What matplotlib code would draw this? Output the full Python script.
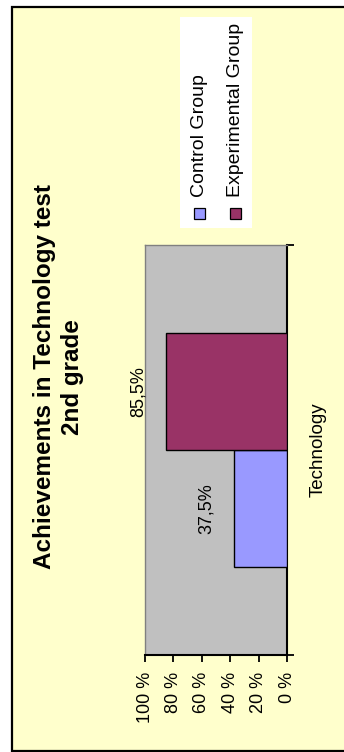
import numpy as np
import matplotlib.pyplot as plt
from matplotlib.patches import Rectangle

# --- data ---
categories = ['Technology']
series = ['Control Group', 'Experimental Group']
values = [37.5, 85.5]
value_labels = ['37,5%', '85,5%']
colors = ['#9999FF', '#993366']
ticks = [0, 20, 40, 60, 80, 100]
tick_labels = ['0 %', '20 %', '40 %', '60 %', '80 %', '100 %']
title = 'Achievements in Technology test\n2nd grade'

plt.rcParams['font.family'] = ['Liberation Sans', 'DejaVu Sans']

W, H = 344, 752
fig = plt.figure(figsize=(W / 100, H / 100), dpi=100, facecolor='white')


def fx(x):
    return x / W


def fy(y):
    return 1 - y / H


# chart area (the chart is turned a quarter round, so everything reads upward)
fig.patches.append(Rectangle((fx(12), fy(751)), fx(W + 10) - fx(12), fy(7) - fy(751),
                             transform=fig.transFigure, facecolor='#FFFFCC',
                             edgecolor='black', lw=1.6, zorder=-1))

ax = fig.add_axes([fx(145), fy(655), fx(287) - fx(145), fy(245) - fy(655)])
ax.set_facecolor('#C0C0C0')

n = len(series)
bar_w = 1 / (n + 1.5)
offsets = (np.arange(n) - (n - 1) / 2) * bar_w
for i in range(n):
    ax.barh(offsets[i], values[i], height=bar_w, color=colors[i],
            edgecolor='black', lw=1.0, zorder=3)
    ax.annotate(value_labels[i], xy=(values[i], offsets[i]), xytext=(-19.5, 0),
                textcoords='offset points', rotation=90, ha='center', va='center',
                fontsize=13, annotation_clip=False)

ax.set_xlim(100, 0)
ax.set_ylim(-0.5, 0.5)

ax.set_xticks(ticks)
ax.set_xticklabels(tick_labels, rotation=90, fontsize=13)
ax.tick_params(axis='x', direction='out', length=5, width=1.3, color='black', pad=7)

ax.yaxis.tick_right()
ax.set_yticks([0])
ax.set_yticklabels(categories, rotation=90, fontsize=13.5, va='center')
ax.set_yticks([-0.5, 0.5], minor=True)
ax.tick_params(axis='y', which='major', length=0, pad=16)
ax.tick_params(axis='y', which='minor', direction='out', length=5, width=1.3,
               color='black')

for s in ['right', 'bottom']:
    ax.spines[s].set_color('black')
    ax.spines[s].set_linewidth(1.5)
for s in ['top', 'left']:
    ax.spines[s].set_color('#808080')
    ax.spines[s].set_linewidth(1.0)

fig.text(fx(58.5), fy(377), title, rotation=90, ha='center', va='center',
         multialignment='center', fontweight='bold', fontsize=17.5, linespacing=1.3)

# legend box
fig.patches.append(Rectangle((fx(180), fy(228)), fx(252) - fx(180), fy(17) - fy(228),
                             transform=fig.transFigure, facecolor='white',
                             edgecolor='none', zorder=1))
leg_x = [199.5, 235.5]
for i in range(n):
    fig.patches.append(Rectangle((fx(leg_x[i] - 5.5), fy(218.5)), fx(11), fy(0) - fy(11),
                                 transform=fig.transFigure, facecolor=colors[i],
                                 edgecolor='black', lw=0.9, zorder=2))
    fig.text(fx(leg_x[i] + 0.5), fy(197), series[i], rotation=90, ha='center',
             va='bottom', fontsize=14, zorder=3)

fig.savefig('out.png', dpi=100)
